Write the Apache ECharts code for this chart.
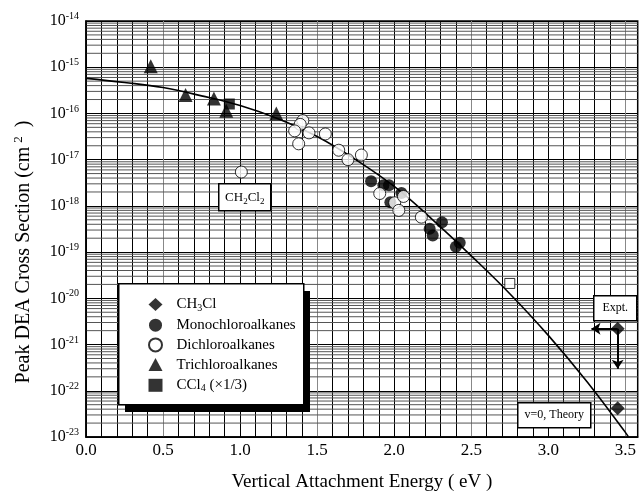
<!DOCTYPE html>
<html><head><meta charset="utf-8">
<script src="https://cdn.jsdelivr.net/npm/echarts@6/dist/echarts.min.js"></script>
<style>html,body{margin:0;padding:0;background:#fff}#c{width:639px;height:497px}</style>
</head><body><div id="c"></div>
<script>
// ---- data (cross sections in cm^2) ----
const ch3cl = [[3.45, 2.2e-21], [3.45, 4.2e-23]];
const mono = [[1.85,3.4e-18],[1.93,2.8e-18],[1.966,2.8e-18],[2.047,1.9e-18],[1.975,1.2e-18],
              [2.31,4.4e-19],[2.23,3.2e-19],[2.25,2.3e-19],[2.425,1.6e-19],[2.40,1.3e-19]];
const di = [[1.008,5.4e-18],[1.407,7e-17],[1.39,5.8e-17],[1.354,4.2e-17],[1.447,3.8e-17],[1.38,2.2e-17],
            [1.553,3.6e-17],[1.64,1.6e-17],[1.70,1e-17],[1.787,1.26e-17],[1.906,1.85e-18],[2.003,1.17e-18],
            [2.03,8e-19],[2.06,1.6e-18],[2.176,5.7e-19]];
const tri = [[0.42,1.05e-15],[0.646,2.5e-16],[0.83,2.1e-16],[0.91,1.14e-16],[1.235,1.0e-16]];
const ccl4 = [[0.93,1.6e-16]];
const openSq = [[2.75,2.1e-20]];
const theoryX = [0,0.25,0.5,0.75,1.0,1.25,1.5,1.75,2.0,2.25,2.5,2.75,3.0,3.25,3.5,3.52];
const theoryY = [5.75e-16,4.68e-16,3.63e-16,2.4e-16,1.48e-16,7.6e-17,3.16e-17,1.0e-17,2.63e-18,5.0e-19,8.3e-20,1.26e-20,1.58e-21,1.58e-22,1.26e-23,1.0e-23];
const exptArrowLeftX = 3.28;
const exptArrowDownY = 3e-22;
const xTickLabels = ['0.0','0.5','1.0','1.5','2.0','2.5','3.0','3.5'];
const yMinExp = -23, yMaxExp = -14;
const legendNames = ['CH3Cl','Monochloroalkanes','Dichloroalkanes','Trichloroalkanes','CCl4'];

// axis unit: 1e-23 cm^2 (ECharts log scale loses precision for tiny numbers)
const UNIT = Math.pow(10, yMinExp);
const u = v => v / UNIT;
const pts = arr => arr.map(p => [p[0], u(p[1])]);

const FONT = 'Liberation Serif, Times New Roman, serif';
const chart = echarts.init(document.getElementById('c'));

const minorLines = [];
for (let e = yMinExp; e < yMaxExp; e++) for (let k = 2; k <= 9; k++) minorLines.push([0, u(k * Math.pow(10, e))]);

const legendFmt = {
  'CH3Cl': '{n|CH}{sub|3}{n|Cl}',
  'Monochloroalkanes': '{n|Monochloroalkanes}',
  'Dichloroalkanes': '{n|Dichloroalkanes}',
  'Trichloroalkanes': '{n|Trichloroalkanes}',
  'CCl4': '{n|CCl}{sub|4}{n| (×1/3)}'
};
const subRich = {
  n: {fontFamily: FONT, fontSize: 15, color: '#000', lineHeight: 16},
  sub: {fontFamily: FONT, fontSize: 10, color: '#000', lineHeight: 10, padding: [7, 0, 0, 0]}
};

const box = (x, y, w, h) => ({type: 'rect', z: 92, shape: {x, y, width: w, height: h}, style: {fill: '#fff', stroke: '#000', lineWidth: 1.5}});

chart.setOption({
  animation: false,
  backgroundColor: '#fff',
  grid: {left: 86, right: 1, top: 21, bottom: 55, show: true, borderColor: '#000', borderWidth: 1.5},
  xAxis: {
    type: 'value', min: 0, max: 3.58, interval: 0.1,
    name: 'Vertical Attachment Energy ( eV )', nameLocation: 'middle', nameGap: 36,
    nameTextStyle: {fontFamily: FONT, fontSize: 19, color: '#000'},
    axisLine: {lineStyle: {color: '#000', width: 1.5}},
    axisTick: {show: false},
    axisLabel: {
      interval: 0, margin: 5, fontFamily: FONT, fontSize: 17, color: '#000', showMaxLabel: false,
      formatter: v => {
        const i = Math.round(v * 2);
        if (Math.abs(v * 2 - i) > 1e-6) return '';
        return xTickLabels[i] || '';
      }
    },
    splitLine: {show: true, lineStyle: {color: ['#000','#000','#000','#000','#000','#888','#000','#000','#000','#000'], width: 1}}
  },
  yAxis: {
    type: 'log', logBase: 10, min: 1, max: u(Math.pow(10, yMaxExp)), splitNumber: 9,
    axisLine: {lineStyle: {color: '#000', width: 1.5}},
    axisTick: {show: false},
    axisLabel: {
      margin: 7, color: '#000',
      formatter: v => '{b|10}{s|' + (Math.round(Math.log10(v)) + yMinExp) + '}',
      rich: {
        b: {fontFamily: FONT, fontSize: 16, color: '#000', lineHeight: 18},
        s: {fontFamily: FONT, fontSize: 10, color: '#000', lineHeight: 18, padding: [0, 0, 9, 0]}
      }
    },
    splitLine: {show: true, lineStyle: {color: '#000', width: 1.2}}
  },
  legend: {
    z: 100,
    orient: 'vertical', left: 118, top: 283,
    data: legendNames,
    backgroundColor: 'transparent', borderWidth: 0,
    padding: [13, 10, 12, 30],
    itemWidth: 14, itemHeight: 13, itemGap: 4.7,
    formatter: name => legendFmt[name],
    textStyle: {rich: subRich, padding: [0, 0, 0, 9]}
  },
  graphic: [
    {type: 'rect', z: 90, left: 125, top: 291, shape: {width: 185, height: 121}, style: {fill: '#000'}},
    {type: 'rect', z: 91, left: 118, top: 283, shape: {width: 185, height: 121}, style: {fill: '#fff', stroke: '#000', lineWidth: 1.5}},
    {type: 'group', left: 218, top: 183, children: [
      box(0, 0, 52, 27),
      {type: 'text', z: 93, x: 26, y: 14, style: {text: '{n|CH}{sub|2}{n|Cl}{sub|2}', rich: {
        n: {fontFamily: FONT, fontSize: 13, lineHeight: 14}, sub: {fontFamily: FONT, fontSize: 9, lineHeight: 14, padding: [7,0,0,0]}},
        align: 'center', verticalAlign: 'middle'}}
    ]},
    {type: 'group', left: 593, top: 295, children: [
      box(0, 0, 43, 25),
      {type: 'text', z: 93, x: 21.5, y: 12.5, style: {text: 'Expt.', fontFamily: FONT, fontSize: 12, fill: '#000', align: 'center', verticalAlign: 'middle'}}
    ]},
    {type: 'group', left: 517, top: 402, children: [
      box(0, 0, 73, 25),
      {type: 'text', z: 93, x: 36.5, y: 12.5, style: {text: 'v=0, Theory', fontFamily: FONT, fontSize: 12, fill: '#000', align: 'center', verticalAlign: 'middle'}}
    ]},
    {type: 'text', z: 93, x: 24, y: 252, rotation: Math.PI / 2, style: {
      text: '{t|Peak DEA Cross Section (cm}{p|2}{t| )}',
      rich: {t: {fontFamily: FONT, fontSize: 20, lineHeight: 22, fill: '#000'},
             p: {fontFamily: FONT, fontSize: 13, lineHeight: 22, padding: [0,4,10,4], fill: '#000'}},
      align: 'center', verticalAlign: 'middle'}}
  ],
  series: [
    {type: 'custom', silent: true, z: 0, data: minorLines, clip: true,
     renderItem: (params, api) => {
       const cs = params.coordSys;
       const y = api.coord([0, api.value(1)])[1];
       return {type: 'line', shape: {x1: cs.x, y1: y, x2: cs.x + cs.width, y2: y},
               style: {stroke: '#555', lineWidth: 1}};
     }},
    {name: 'theory', type: 'line', smooth: 0.4, showSymbol: false, z: 3,
     lineStyle: {color: '#000', width: 1.6},
     data: theoryX.map((x, i) => [x, u(theoryY[i])])},
    {name: 'CH3Cl', type: 'scatter', symbol: 'diamond', symbolSize: 14, z: 4,
     itemStyle: {color: '#000'}, data: pts(ch3cl),
     markLine: {silent: true, symbol: ['none', 'arrow'], symbolSize: 9, label: {show: false},
       lineStyle: {color: '#000', width: 2, type: 'solid'},
       data: [
         [{coord: [ch3cl[0][0], u(ch3cl[0][1])]}, {coord: [exptArrowLeftX, u(ch3cl[0][1])]}],
         [{coord: [ch3cl[0][0], u(ch3cl[0][1])]}, {coord: [ch3cl[0][0], u(exptArrowDownY)]}]
       ]}},
    {name: 'Monochloroalkanes', type: 'scatter', symbol: 'circle', symbolSize: 12, z: 4,
     itemStyle: {color: '#000'}, data: pts(mono)},
    {name: 'Dichloroalkanes', type: 'scatter', symbol: 'circle', symbolSize: 12, z: 5,
     itemStyle: {color: '#fff', borderColor: '#000', borderWidth: 1}, data: pts(di)},
    {name: 'Trichloroalkanes', type: 'scatter', symbol: 'triangle', symbolSize: 14, z: 4,
     itemStyle: {color: '#000'}, data: pts(tri)},
    {name: 'CCl4', type: 'scatter', symbol: 'rect', symbolSize: 11, z: 4,
     itemStyle: {color: '#000'}, data: pts(ccl4)},
    {name: 'open', type: 'scatter', symbol: 'rect', symbolSize: 10, z: 4,
     itemStyle: {color: '#fff', borderColor: '#000', borderWidth: 1}, data: pts(openSq)}
  ]
});
</script></body></html>
